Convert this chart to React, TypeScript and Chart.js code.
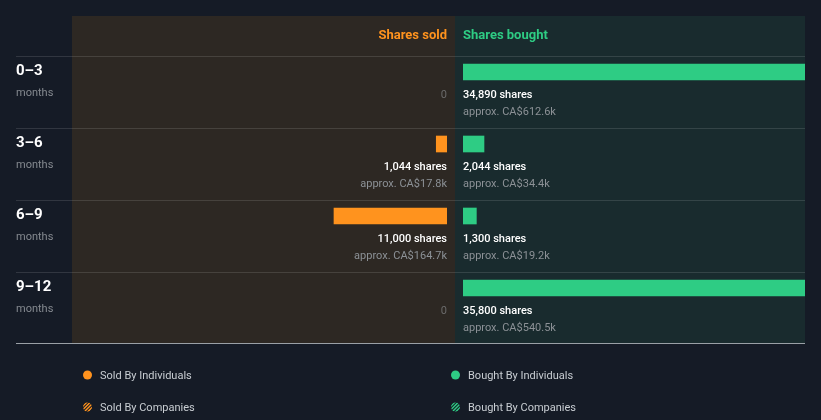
import React, { useEffect, useRef } from "react";
import { Chart, registerables } from "chart.js";

Chart.register(...registerables);

// ---- data ----
const CATEGORIES = ["0–3", "3–6", "6–9", "9–12"];
const CATEGORY_UNIT = "months";
const SOLD_SHARES = [0, 1044, 11000, 0];
const BOUGHT_SHARES = [34890, 2044, 1300, 35800];
const SOLD_VALUE = ["", "CA$17.8k", "CA$164.7k", ""];
const BOUGHT_VALUE = ["CA$612.6k", "CA$34.4k", "CA$19.2k", "CA$540.5k"];
const HEADERS = ["Shares sold", "Shares bought"];
const LEGEND_LABELS = [
  "Sold By Individuals",
  "Bought By Individuals",
  "Sold By Companies",
  "Bought By Companies",
];
const AXIS_MAX = 36500;

// ---- styles ----
const BG = "#151b26";
const SOLD_PANEL = "#2d2823";
const BOUGHT_PANEL = "#192b2e";
const ORANGE = "#ff931e";
const GREEN = "#2ecc84";
const FONT = "Roboto, 'Noto Sans', sans-serif";
const SOLD_W = 375;
const GAP_W = 16;
const BOUGHT_W = 342;

const fmt = (n: number) => n.toLocaleString("en-US");
const nonZero = (arr: number[]) => arr.map((v) => (v === 0 ? null : v));

const decorPlugin = {
  id: "decor",
  beforeDatasetsDraw(chart: any) {
    const { ctx, width, height, scales } = chart;
    const y = scales.y;
    const xs = scales.xs;
    const xb = scales.xb;
    const soldZero = xs.getPixelForValue(0);
    const boughtZero = xb.getPixelForValue(0);
    const divider = (soldZero + boughtZero) / 2;
    const band = y.getPixelForValue(1) - y.getPixelForValue(0);
    const firstTop = Math.round(y.getPixelForValue(0) - 16);
    const lastBottom = Math.round(firstTop + band * CATEGORIES.length);
    const panelTop = 16;
    const left = xs.left;
    const right = xb.right;

    ctx.save();
    ctx.fillStyle = BG;
    ctx.fillRect(0, 0, width, height);
    ctx.fillStyle = SOLD_PANEL;
    ctx.fillRect(left, panelTop, divider - left, lastBottom - 1 - panelTop);
    ctx.fillStyle = BOUGHT_PANEL;
    ctx.fillRect(divider, panelTop, right - divider, lastBottom - 1 - panelTop);

    // headers
    ctx.font = `bold 13px ${FONT}`;
    ctx.textBaseline = "alphabetic";
    ctx.fillStyle = ORANGE;
    ctx.textAlign = "right";
    ctx.fillText(HEADERS[0], soldZero, 39);
    ctx.fillStyle = GREEN;
    ctx.textAlign = "left";
    ctx.fillText(HEADERS[1], boughtZero, 39);

    // row lines
    ctx.fillStyle = "rgba(255,255,255,0.12)";
    for (let i = 0; i < CATEGORIES.length; i++) {
      const ty = Math.round(y.getPixelForValue(i) - 16);
      ctx.fillRect(16, ty, right - 16, 1);
    }
    ctx.fillStyle = "#9aa0a6";
    ctx.fillRect(16, lastBottom - 1, right - 16, 1);

    // row labels and value texts
    for (let i = 0; i < CATEGORIES.length; i++) {
      const c = y.getPixelForValue(i);
      ctx.textAlign = "left";
      ctx.fillStyle = "#ffffff";
      ctx.font = `bold 15px ${FONT}`;
      ctx.fillText(CATEGORIES[i], 16, c + 3);
      ctx.fillStyle = "#858a90";
      ctx.font = `11px ${FONT}`;
      ctx.fillText(CATEGORY_UNIT, 16, c + 24);

      // sold
      ctx.textAlign = "right";
      if (SOLD_SHARES[i] === 0) {
        ctx.fillStyle = "#6b6b6b";
        ctx.font = `11px ${FONT}`;
        ctx.fillText("0", soldZero, c + 26);
      } else {
        ctx.fillStyle = "#ffffff";
        ctx.font = `500 11px ${FONT}`;
        ctx.fillText(`${fmt(SOLD_SHARES[i])} shares`, soldZero, c + 26);
        ctx.fillStyle = "#8c9196";
        ctx.font = `11px ${FONT}`;
        ctx.fillText(`approx. ${SOLD_VALUE[i]}`, soldZero, c + 43);
      }
      // bought
      ctx.textAlign = "left";
      if (BOUGHT_SHARES[i] === 0) {
        ctx.fillStyle = "#6b6b6b";
        ctx.font = `11px ${FONT}`;
        ctx.fillText("0", boughtZero, c + 26);
      } else {
        ctx.fillStyle = "#ffffff";
        ctx.font = `500 11px ${FONT}`;
        ctx.fillText(`${fmt(BOUGHT_SHARES[i])} shares`, boughtZero, c + 26);
        ctx.fillStyle = "#8c9196";
        ctx.font = `11px ${FONT}`;
        ctx.fillText(`approx. ${BOUGHT_VALUE[i]}`, boughtZero, c + 43);
      }
    }

    // legend
    const lx = [87.5, 455.5];
    const ly = [375, 407];
    const colors = [ORANGE, GREEN];
    ctx.font = `11px ${FONT}`;
    ctx.textAlign = "left";
    for (let r = 0; r < 2; r++) {
      for (let k = 0; k < 2; k++) {
        const cx = lx[k];
        const cy = ly[r];
        if (r === 0) {
          ctx.fillStyle = colors[k];
          ctx.beginPath();
          ctx.arc(cx, cy, 4.5, 0, Math.PI * 2);
          ctx.fill();
        } else {
          ctx.save();
          ctx.beginPath();
          ctx.arc(cx, cy, 4.5, 0, Math.PI * 2);
          ctx.clip();
          ctx.strokeStyle = colors[k];
          ctx.lineWidth = 1.5;
          for (let d = -9; d <= 9; d += 3.5) {
            ctx.beginPath();
            ctx.moveTo(cx + d - 6, cy + 6);
            ctx.lineTo(cx + d + 6, cy - 6);
            ctx.stroke();
          }
          ctx.restore();
        }
        ctx.fillStyle = "#c8cdd2";
        ctx.fillText(LEGEND_LABELS[r * 2 + k], cx + 12.5, cy + 4);
      }
    }
    ctx.restore();
  },
};

export default function App() {
  const ref = useRef<HTMLCanvasElement | null>(null);

  useEffect(() => {
    if (!ref.current) return;
    const chart = new Chart(ref.current, {
      type: "bar",
      data: {
        labels: CATEGORIES,
        datasets: [
          {
            label: HEADERS[0],
            data: nonZero(SOLD_SHARES),
            xAxisID: "xs",
            yAxisID: "y",
            backgroundColor: ORANGE,
            barThickness: 16,
            grouped: false,
            clip: 0,
          } as any,
          {
            label: HEADERS[1],
            data: nonZero(BOUGHT_SHARES),
            xAxisID: "xb",
            yAxisID: "y",
            backgroundColor: GREEN,
            barThickness: 16,
            grouped: false,
            clip: 0,
          } as any,
        ],
      },
      options: {
        indexAxis: "y",
        animation: false,
        responsive: false,
        devicePixelRatio: 1,
        layout: { padding: { left: 72, right: 16, top: 36, bottom: 96 } },
        plugins: { legend: { display: false }, tooltip: { enabled: false } },
        scales: {
          y: { type: "category", display: false, offset: true },
          xs: {
            type: "linear", axis: "x", position: "bottom", display: false,
            stack: "x", stackWeight: SOLD_W, reverse: true, min: 0, max: AXIS_MAX,
          },
          xgap: {
            type: "linear", axis: "x", position: "bottom", display: false,
            stack: "x", stackWeight: GAP_W,
          },
          xb: {
            type: "linear", axis: "x", position: "bottom", display: false,
            stack: "x", stackWeight: BOUGHT_W, min: 0, max: (AXIS_MAX * BOUGHT_W) / SOLD_W,
          },
        } as any,
      },
      plugins: [decorPlugin],
    });
    return () => chart.destroy();
  }, []);

  return (
    <div style={{ position: "absolute", left: 0, top: 0, width: 821, height: 420, background: BG }}>
      <canvas ref={ref} width={821} height={420} style={{ display: "block" }} />
    </div>
  );
}
